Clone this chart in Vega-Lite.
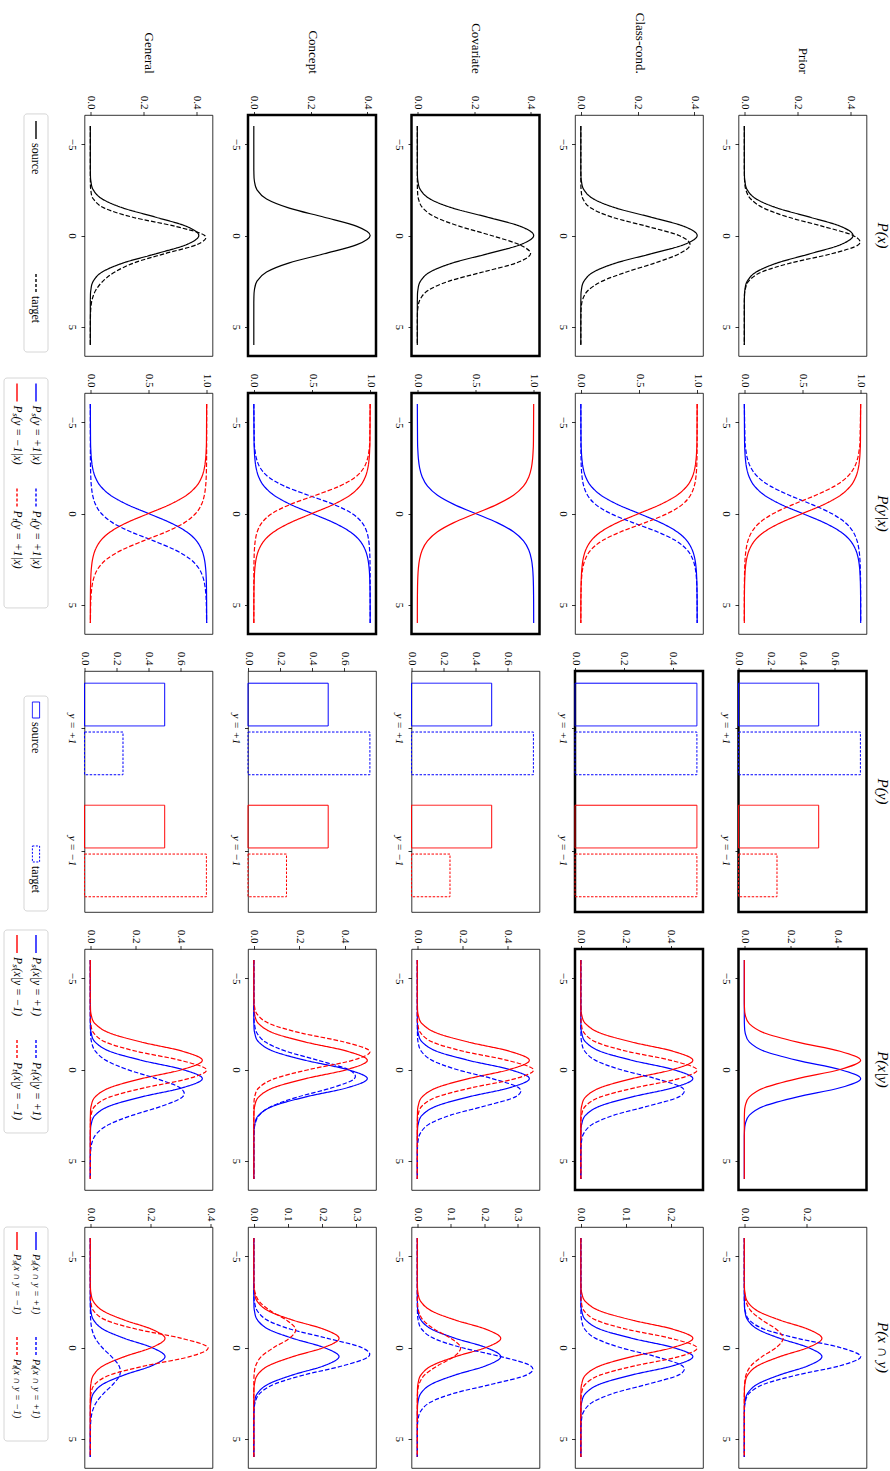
{
"$schema":"https://vega.github.io/schema/vega-lite/v6.json",
"background":"white",
"padding":{"left":3,"top":11,"right":2,"bottom":2},
"bounds":"flush",
"columns":6,
"spacing":{"row":37,"column":35.5},
"concat":[
 {"width":44.5,"height":241,"view":{"stroke":null},"layer":[
  {"data":{"values":[{"a":1}]},"mark":{"type":"rect","fillOpacity":0,"stroke":"#cccccc","strokeWidth":0.8,"cornerRadius":3},"encoding":{"x":{"datum":1.368,"type":"quantitative","scale":{"domain":[0.3158,2.658],"nice":false,"zero":false},"axis":null},"x2":{"datum":2.632},"y":{"datum":0.895,"type":"quantitative","scale":{"domain":[0.902,2.477],"nice":false,"zero":false,"reverse":true},"axis":null},"y2":{"datum":2.451}}},
  {"data":{"name":"leg"},"transform":[{"filter":"datum.g=='L1'"}],"mark":{"type":"point","shape":"M0,-1L0,1","size":324,"filled":false,"strokeWidth":1.4,"color":"black","opacity":1},"encoding":{"x":{"field":"lane","type":"quantitative"},"y":{"field":"slot","type":"quantitative"},"strokeDash":{"condition":{"test":"datum.s=='t'","value":[3,2]},"value":[1,0]}}},
  {"data":{"name":"leg"},"transform":[{"filter":"datum.g=='L1'"}],"mark":{"type":"text","angle":90,"align":"left","baseline":"middle","yOffset":13,"font":"Liberation Serif","fontSize":12,"color":"black"},"encoding":{"x":{"field":"lane","type":"quantitative"},"y":{"field":"slot","type":"quantitative"},"text":{"field":"t"}}}
 ]},
 {"width":128,"height":241,"view":{"stroke":"black","strokeWidth":0.8},"data":{"name":"px"},"transform":[{"filter":"datum.r=='S'||datum.r=='G'"}],"mark":{"type":"line","interpolate":"cardinal","strokeWidth":1.2,"color":"black"},"encoding":{"x":{"field":"v","type":"quantitative","scale":{"domain":[-0.022,0.462],"nice":false,"zero":false},"axis":{"orient":"top","values":[0,0.2,0.4],"format":".1f","title":"General"}},"y":{"field":"x","type":"quantitative","scale":{"domain":[-6.6,6.6],"nice":false,"zero":false,"reverse":true},"axis":{"values":[-5,0,5],"title":null}},"detail":{"field":"r"},"order":{"field":"x","type":"quantitative"},"strokeDash":{"condition":{"test":"datum.r!='S'","value":[4.5,2]},"value":[1,0]}}},
 {"width":128,"height":241,"view":{"stroke":"black","strokeWidth":2.5},"data":{"name":"px"},"transform":[{"filter":"datum.r=='S'"}],"mark":{"type":"line","interpolate":"cardinal","strokeWidth":1.2,"color":"black"},"encoding":{"x":{"field":"v","type":"quantitative","scale":{"domain":[-0.0205,0.4307],"nice":false,"zero":false},"axis":{"orient":"top","values":[0,0.2,0.4],"format":".1f","title":"Concept"}},"y":{"field":"x","type":"quantitative","scale":{"domain":[-6.6,6.6],"nice":false,"zero":false,"reverse":true},"axis":{"values":[-5,0,5],"title":null}},"detail":{"field":"r"},"order":{"field":"x","type":"quantitative"}}},
 {"width":128,"height":241,"view":{"stroke":"black","strokeWidth":2.5},"data":{"name":"px"},"transform":[{"filter":"datum.r=='S'||datum.r=='V'"}],"mark":{"type":"line","interpolate":"cardinal","strokeWidth":1.2,"color":"black"},"encoding":{"x":{"field":"v","type":"quantitative","scale":{"domain":[-0.0205,0.4307],"nice":false,"zero":false},"axis":{"orient":"top","values":[0,0.2,0.4],"format":".1f","title":"Covariate"}},"y":{"field":"x","type":"quantitative","scale":{"domain":[-6.6,6.6],"nice":false,"zero":false,"reverse":true},"axis":{"values":[-5,0,5],"title":null}},"detail":{"field":"r"},"order":{"field":"x","type":"quantitative"},"strokeDash":{"condition":{"test":"datum.r!='S'","value":[4.5,2]},"value":[1,0]}}},
 {"width":128,"height":241,"view":{"stroke":"black","strokeWidth":0.8},"data":{"name":"px"},"transform":[{"filter":"datum.r=='S'||datum.r=='C'"}],"mark":{"type":"line","interpolate":"cardinal","strokeWidth":1.2,"color":"black"},"encoding":{"x":{"field":"v","type":"quantitative","scale":{"domain":[-0.0205,0.4307],"nice":false,"zero":false},"axis":{"orient":"top","values":[0,0.2,0.4],"format":".1f","title":"Class-cond."}},"y":{"field":"x","type":"quantitative","scale":{"domain":[-6.6,6.6],"nice":false,"zero":false,"reverse":true},"axis":{"values":[-5,0,5],"title":null}},"detail":{"field":"r"},"order":{"field":"x","type":"quantitative"},"strokeDash":{"condition":{"test":"datum.r!='S'","value":[4.5,2]},"value":[1,0]}}},
 {"width":128,"height":241,"view":{"stroke":"black","strokeWidth":0.8},"title":{"text":"P(x)","orient":"right","anchor":"middle"},"data":{"name":"px"},"transform":[{"filter":"datum.r=='S'||datum.r=='P'"}],"mark":{"type":"line","interpolate":"cardinal","strokeWidth":1.2,"color":"black"},"encoding":{"x":{"field":"v","type":"quantitative","scale":{"domain":[-0.022,0.461],"nice":false,"zero":false},"axis":{"orient":"top","values":[0,0.2,0.4],"format":".1f","title":"Prior"}},"y":{"field":"x","type":"quantitative","scale":{"domain":[-6.6,6.6],"nice":false,"zero":false,"reverse":true},"axis":{"values":[-5,0,5],"title":null}},"detail":{"field":"r"},"order":{"field":"x","type":"quantitative"},"strokeDash":{"condition":{"test":"datum.r!='S'","value":[4.5,2]},"value":[1,0]}}},

 {"width":44.5,"height":241,"view":{"stroke":null},"layer":[
  {"data":{"values":[{"a":1}]},"mark":{"type":"rect","fillOpacity":0,"stroke":"#cccccc","strokeWidth":0.8,"cornerRadius":3},"encoding":{"x":{"datum":0.3158,"type":"quantitative","scale":{"domain":[0.3158,2.658],"nice":false,"zero":false},"axis":null},"x2":{"datum":2.632},"y":{"datum":0.862,"type":"quantitative","scale":{"domain":[1.0048,3.3],"nice":false,"zero":false,"reverse":true},"axis":null},"y2":{"datum":3.052}}},
  {"data":{"name":"leg"},"transform":[{"filter":"datum.g=='L2'"}],"mark":{"type":"point","shape":"M0,-1L0,1","size":324,"filled":false,"strokeWidth":1.4,"opacity":1},"encoding":{"x":{"field":"lane","type":"quantitative"},"y":{"field":"slot","type":"quantitative"},"color":{"condition":{"test":"datum.c=='p'","value":"#0000ff"},"value":"#ff0000"},"strokeDash":{"condition":{"test":"datum.s=='t'","value":[3,2]},"value":[1,0]}}},
  {"data":{"name":"leg"},"transform":[{"filter":"datum.g=='L2'"}],"mark":{"type":"text","angle":90,"align":"left","baseline":"middle","yOffset":13,"font":"Liberation Serif","fontStyle":"italic","fontSize":11.5,"color":"black"},"encoding":{"x":{"field":"lane","type":"quantitative"},"y":{"field":"slot","type":"quantitative"},"text":{"field":"t"}}}
 ]},
 {"width":128,"height":241,"view":{"stroke":"black","strokeWidth":0.8},"data":{"name":"pyx"},"transform":[{"filter":"datum.r=='S'||datum.r=='G'"}],"mark":{"type":"line","interpolate":"cardinal","strokeWidth":1.2},"encoding":{"x":{"field":"v","type":"quantitative","scale":{"domain":[-0.05,1.05],"nice":false,"zero":false},"axis":{"orient":"top","values":[0,0.5,1],"format":".1f","title":null}},"y":{"field":"x","type":"quantitative","scale":{"domain":[-6.6,6.6],"nice":false,"zero":false,"reverse":true},"axis":{"values":[-5,0,5],"title":null}},"detail":[{"field":"r"},{"field":"c"}],"order":{"field":"x","type":"quantitative"},"color":{"condition":{"test":"datum.c=='p'","value":"#0000ff"},"value":"#ff0000"},"strokeDash":{"condition":{"test":"datum.r!='S'","value":[4.5,2]},"value":[1,0]}}},
 {"width":128,"height":241,"view":{"stroke":"black","strokeWidth":2.5},"data":{"name":"pyx"},"transform":[{"filter":"datum.r=='S'||datum.r=='K'"}],"mark":{"type":"line","interpolate":"cardinal","strokeWidth":1.2},"encoding":{"x":{"field":"v","type":"quantitative","scale":{"domain":[-0.05,1.05],"nice":false,"zero":false},"axis":{"orient":"top","values":[0,0.5,1],"format":".1f","title":null}},"y":{"field":"x","type":"quantitative","scale":{"domain":[-6.6,6.6],"nice":false,"zero":false,"reverse":true},"axis":{"values":[-5,0,5],"title":null}},"detail":[{"field":"r"},{"field":"c"}],"order":{"field":"x","type":"quantitative"},"color":{"condition":{"test":"datum.c=='p'","value":"#0000ff"},"value":"#ff0000"},"strokeDash":{"condition":{"test":"datum.r!='S'","value":[4.5,2]},"value":[1,0]}}},
 {"width":128,"height":241,"view":{"stroke":"black","strokeWidth":2.5},"data":{"name":"pyx"},"transform":[{"filter":"datum.r=='S'"}],"mark":{"type":"line","interpolate":"cardinal","strokeWidth":1.2},"encoding":{"x":{"field":"v","type":"quantitative","scale":{"domain":[-0.05,1.05],"nice":false,"zero":false},"axis":{"orient":"top","values":[0,0.5,1],"format":".1f","title":null}},"y":{"field":"x","type":"quantitative","scale":{"domain":[-6.6,6.6],"nice":false,"zero":false,"reverse":true},"axis":{"values":[-5,0,5],"title":null}},"detail":[{"field":"r"},{"field":"c"}],"order":{"field":"x","type":"quantitative"},"color":{"condition":{"test":"datum.c=='p'","value":"#0000ff"},"value":"#ff0000"}}},
 {"width":128,"height":241,"view":{"stroke":"black","strokeWidth":0.8},"data":{"name":"pyx"},"transform":[{"filter":"datum.r=='S'||datum.r=='C'"}],"mark":{"type":"line","interpolate":"cardinal","strokeWidth":1.2},"encoding":{"x":{"field":"v","type":"quantitative","scale":{"domain":[-0.05,1.05],"nice":false,"zero":false},"axis":{"orient":"top","values":[0,0.5,1],"format":".1f","title":null}},"y":{"field":"x","type":"quantitative","scale":{"domain":[-6.6,6.6],"nice":false,"zero":false,"reverse":true},"axis":{"values":[-5,0,5],"title":null}},"detail":[{"field":"r"},{"field":"c"}],"order":{"field":"x","type":"quantitative"},"color":{"condition":{"test":"datum.c=='p'","value":"#0000ff"},"value":"#ff0000"},"strokeDash":{"condition":{"test":"datum.r!='S'","value":[4.5,2]},"value":[1,0]}}},
 {"width":128,"height":241,"view":{"stroke":"black","strokeWidth":0.8},"title":{"text":"P(y|x)","orient":"right","anchor":"middle"},"data":{"name":"pyx"},"transform":[{"filter":"datum.r=='S'||datum.r=='P'"}],"mark":{"type":"line","interpolate":"cardinal","strokeWidth":1.2},"encoding":{"x":{"field":"v","type":"quantitative","scale":{"domain":[-0.05,1.05],"nice":false,"zero":false},"axis":{"orient":"top","values":[0,0.5,1],"format":".1f","title":null}},"y":{"field":"x","type":"quantitative","scale":{"domain":[-6.6,6.6],"nice":false,"zero":false,"reverse":true},"axis":{"values":[-5,0,5],"title":null}},"detail":[{"field":"r"},{"field":"c"}],"order":{"field":"x","type":"quantitative"},"color":{"condition":{"test":"datum.c=='p'","value":"#0000ff"},"value":"#ff0000"},"strokeDash":{"condition":{"test":"datum.r!='S'","value":[4.5,2]},"value":[1,0]}}},

 {"width":44.5,"height":241,"view":{"stroke":null},"layer":[
  {"data":{"values":[{"a":1}]},"mark":{"type":"rect","fillOpacity":0,"stroke":"#cccccc","strokeWidth":0.8,"cornerRadius":3},"encoding":{"x":{"datum":1.368,"type":"quantitative","scale":{"domain":[0.3158,2.658],"nice":false,"zero":false},"axis":null},"x2":{"datum":2.632},"y":{"datum":0.903,"type":"quantitative","scale":{"domain":[0.729,2.403],"nice":false,"zero":false,"reverse":true},"axis":null},"y2":{"datum":2.396}}},
  {"data":{"name":"leg"},"transform":[{"filter":"datum.g=='L3'"}],"mark":{"type":"point","shape":"M-0.45,-1H0.45V1H-0.45Z","size":256,"filled":false,"strokeWidth":1,"color":"#0000ff","opacity":1},"encoding":{"x":{"field":"lane","type":"quantitative"},"y":{"field":"slot","type":"quantitative"},"strokeDash":{"condition":{"test":"datum.s=='t'","value":[2,1.5]},"value":[1,0]}}},
  {"data":{"name":"leg"},"transform":[{"filter":"datum.g=='L3'"}],"mark":{"type":"text","angle":90,"align":"left","baseline":"middle","yOffset":12,"font":"Liberation Serif","fontSize":12,"color":"black"},"encoding":{"x":{"field":"lane","type":"quantitative"},"y":{"field":"slot","type":"quantitative"},"text":{"field":"t"}}}
 ]},
 {"width":128,"height":241,"view":{"stroke":"black","strokeWidth":0.8},"data":{"name":"bars"},"transform":[{"filter":"datum.r=='G'"}],"mark":{"type":"bar","fillOpacity":0,"strokeWidth":1},"encoding":{"y":{"field":"k","type":"nominal","sort":["y = +1","y = −1"],"scale":{"paddingInner":0.25,"paddingOuter":0.1125,"align":0.445},"axis":{"title":null,"labelFontStyle":"italic"}},"yOffset":{"field":"s","type":"nominal","sort":["s","t"],"scale":{"paddingInner":0.125,"paddingOuter":0}},"x":{"field":"p","type":"quantitative","scale":{"domain":[0,0.798],"nice":false,"zero":false},"axis":{"orient":"top","values":[0,0.2,0.4,0.6],"format":".1f","title":null}},"stroke":{"condition":{"test":"datum.k=='y = +1'","value":"#0000ff"},"value":"#ff0000"},"strokeDash":{"condition":{"test":"datum.s=='t'","value":[2.5,1.5]},"value":[1,0]}}},
 {"width":128,"height":241,"view":{"stroke":"black","strokeWidth":0.8},"data":{"name":"bars"},"transform":[{"filter":"datum.r=='K'"}],"mark":{"type":"bar","fillOpacity":0,"strokeWidth":1},"encoding":{"y":{"field":"k","type":"nominal","sort":["y = +1","y = −1"],"scale":{"paddingInner":0.25,"paddingOuter":0.1125,"align":0.445},"axis":{"title":null,"labelFontStyle":"italic"}},"yOffset":{"field":"s","type":"nominal","sort":["s","t"],"scale":{"paddingInner":0.125,"paddingOuter":0}},"x":{"field":"p","type":"quantitative","scale":{"domain":[0,0.798],"nice":false,"zero":false},"axis":{"orient":"top","values":[0,0.2,0.4,0.6],"format":".1f","title":null}},"stroke":{"condition":{"test":"datum.k=='y = +1'","value":"#0000ff"},"value":"#ff0000"},"strokeDash":{"condition":{"test":"datum.s=='t'","value":[2.5,1.5]},"value":[1,0]}}},
 {"width":128,"height":241,"view":{"stroke":"black","strokeWidth":0.8},"data":{"name":"bars"},"transform":[{"filter":"datum.r=='V'"}],"mark":{"type":"bar","fillOpacity":0,"strokeWidth":1},"encoding":{"y":{"field":"k","type":"nominal","sort":["y = +1","y = −1"],"scale":{"paddingInner":0.25,"paddingOuter":0.1125,"align":0.445},"axis":{"title":null,"labelFontStyle":"italic"}},"yOffset":{"field":"s","type":"nominal","sort":["s","t"],"scale":{"paddingInner":0.125,"paddingOuter":0}},"x":{"field":"p","type":"quantitative","scale":{"domain":[0,0.798],"nice":false,"zero":false},"axis":{"orient":"top","values":[0,0.2,0.4,0.6],"format":".1f","title":null}},"stroke":{"condition":{"test":"datum.k=='y = +1'","value":"#0000ff"},"value":"#ff0000"},"strokeDash":{"condition":{"test":"datum.s=='t'","value":[2.5,1.5]},"value":[1,0]}}},
 {"width":128,"height":241,"view":{"stroke":"black","strokeWidth":2.5},"data":{"name":"bars"},"transform":[{"filter":"datum.r=='C'"}],"mark":{"type":"bar","fillOpacity":0,"strokeWidth":1},"encoding":{"y":{"field":"k","type":"nominal","sort":["y = +1","y = −1"],"scale":{"paddingInner":0.25,"paddingOuter":0.1125,"align":0.445},"axis":{"title":null,"labelFontStyle":"italic"}},"yOffset":{"field":"s","type":"nominal","sort":["s","t"],"scale":{"paddingInner":0.125,"paddingOuter":0}},"x":{"field":"p","type":"quantitative","scale":{"domain":[0,0.525],"nice":false,"zero":false},"axis":{"orient":"top","values":[0,0.2,0.4],"format":".1f","title":null}},"stroke":{"condition":{"test":"datum.k=='y = +1'","value":"#0000ff"},"value":"#ff0000"},"strokeDash":{"condition":{"test":"datum.s=='t'","value":[2.5,1.5]},"value":[1,0]}}},
 {"width":128,"height":241,"view":{"stroke":"black","strokeWidth":2.5},"title":{"text":"P(y)","orient":"right","anchor":"middle"},"data":{"name":"bars"},"transform":[{"filter":"datum.r=='P'"}],"mark":{"type":"bar","fillOpacity":0,"strokeWidth":1},"encoding":{"y":{"field":"k","type":"nominal","sort":["y = +1","y = −1"],"scale":{"paddingInner":0.25,"paddingOuter":0.1125,"align":0.445},"axis":{"title":null,"labelFontStyle":"italic"}},"yOffset":{"field":"s","type":"nominal","sort":["s","t"],"scale":{"paddingInner":0.125,"paddingOuter":0}},"x":{"field":"p","type":"quantitative","scale":{"domain":[0,0.798],"nice":false,"zero":false},"axis":{"orient":"top","values":[0,0.2,0.4,0.6],"format":".1f","title":null}},"stroke":{"condition":{"test":"datum.k=='y = +1'","value":"#0000ff"},"value":"#ff0000"},"strokeDash":{"condition":{"test":"datum.s=='t'","value":[2.5,1.5]},"value":[1,0]}}},

 {"width":44.5,"height":241,"view":{"stroke":null},"layer":[
  {"data":{"values":[{"a":1}]},"mark":{"type":"rect","fillOpacity":0,"stroke":"#cccccc","strokeWidth":0.8,"cornerRadius":3},"encoding":{"x":{"datum":0.3158,"type":"quantitative","scale":{"domain":[0.3158,2.658],"nice":false,"zero":false},"axis":null},"x2":{"datum":2.632},"y":{"datum":0.867,"type":"quantitative","scale":{"domain":[1.048,3.343],"nice":false,"zero":false,"reverse":true},"axis":null},"y2":{"datum":2.8}}},
  {"data":{"name":"leg"},"transform":[{"filter":"datum.g=='L4'"}],"mark":{"type":"point","shape":"M0,-1L0,1","size":324,"filled":false,"strokeWidth":1.4,"opacity":1},"encoding":{"x":{"field":"lane","type":"quantitative"},"y":{"field":"slot","type":"quantitative"},"color":{"condition":{"test":"datum.c=='p'","value":"#0000ff"},"value":"#ff0000"},"strokeDash":{"condition":{"test":"datum.s=='t'","value":[3,2]},"value":[1,0]}}},
  {"data":{"name":"leg"},"transform":[{"filter":"datum.g=='L4'"}],"mark":{"type":"text","angle":90,"align":"left","baseline":"middle","yOffset":13,"font":"Liberation Serif","fontStyle":"italic","fontSize":11.5,"color":"black"},"encoding":{"x":{"field":"lane","type":"quantitative"},"y":{"field":"slot","type":"quantitative"},"text":{"field":"t"}}}
 ]},
 {"width":128,"height":241,"view":{"stroke":"black","strokeWidth":0.8},"data":{"name":"pxy"},"transform":[{"filter":"datum.r=='S'||datum.r=='G'"}],"mark":{"type":"line","interpolate":"cardinal","strokeWidth":1.2},"encoding":{"x":{"field":"v","type":"quantitative","scale":{"domain":[-0.0259,0.544],"nice":false,"zero":false},"axis":{"orient":"top","values":[0,0.2,0.4],"format":".1f","title":null}},"y":{"field":"x","type":"quantitative","scale":{"domain":[-6.6,6.6],"nice":false,"zero":false,"reverse":true},"axis":{"values":[-5,0,5],"title":null}},"detail":[{"field":"r"},{"field":"c"}],"order":{"field":"x","type":"quantitative"},"color":{"condition":{"test":"datum.c=='p'","value":"#0000ff"},"value":"#ff0000"},"strokeDash":{"condition":{"test":"datum.r!='S'","value":[4.5,2]},"value":[1,0]}}},
 {"width":128,"height":241,"view":{"stroke":"black","strokeWidth":0.8},"data":{"name":"pxy"},"transform":[{"filter":"datum.r=='S'||datum.r=='K'"}],"mark":{"type":"line","interpolate":"cardinal","strokeWidth":1.2},"encoding":{"x":{"field":"v","type":"quantitative","scale":{"domain":[-0.0256,0.537],"nice":false,"zero":false},"axis":{"orient":"top","values":[0,0.2,0.4],"format":".1f","title":null}},"y":{"field":"x","type":"quantitative","scale":{"domain":[-6.6,6.6],"nice":false,"zero":false,"reverse":true},"axis":{"values":[-5,0,5],"title":null}},"detail":[{"field":"r"},{"field":"c"}],"order":{"field":"x","type":"quantitative"},"color":{"condition":{"test":"datum.c=='p'","value":"#0000ff"},"value":"#ff0000"},"strokeDash":{"condition":{"test":"datum.r!='S'","value":[4.5,2]},"value":[1,0]}}},
 {"width":128,"height":241,"view":{"stroke":"black","strokeWidth":0.8},"data":{"name":"pxy"},"transform":[{"filter":"datum.r=='S'||datum.r=='C'"}],"mark":{"type":"line","interpolate":"cardinal","strokeWidth":1.2},"encoding":{"x":{"field":"v","type":"quantitative","scale":{"domain":[-0.0259,0.544],"nice":false,"zero":false},"axis":{"orient":"top","values":[0,0.2,0.4],"format":".1f","title":null}},"y":{"field":"x","type":"quantitative","scale":{"domain":[-6.6,6.6],"nice":false,"zero":false,"reverse":true},"axis":{"values":[-5,0,5],"title":null}},"detail":[{"field":"r"},{"field":"c"}],"order":{"field":"x","type":"quantitative"},"color":{"condition":{"test":"datum.c=='p'","value":"#0000ff"},"value":"#ff0000"},"strokeDash":{"condition":{"test":"datum.r!='S'","value":[4.5,2]},"value":[1,0]}}},
 {"width":128,"height":241,"view":{"stroke":"black","strokeWidth":2.5},"data":{"name":"pxy"},"transform":[{"filter":"datum.r=='S'||datum.r=='C'"}],"mark":{"type":"line","interpolate":"cardinal","strokeWidth":1.2},"encoding":{"x":{"field":"v","type":"quantitative","scale":{"domain":[-0.0259,0.544],"nice":false,"zero":false},"axis":{"orient":"top","values":[0,0.2,0.4],"format":".1f","title":null}},"y":{"field":"x","type":"quantitative","scale":{"domain":[-6.6,6.6],"nice":false,"zero":false,"reverse":true},"axis":{"values":[-5,0,5],"title":null}},"detail":[{"field":"r"},{"field":"c"}],"order":{"field":"x","type":"quantitative"},"color":{"condition":{"test":"datum.c=='p'","value":"#0000ff"},"value":"#ff0000"},"strokeDash":{"condition":{"test":"datum.r!='S'","value":[4.5,2]},"value":[1,0]}}},
 {"width":128,"height":241,"view":{"stroke":"black","strokeWidth":2.5},"title":{"text":"P(x|y)","orient":"right","anchor":"middle"},"data":{"name":"pxy"},"transform":[{"filter":"datum.r=='S'"}],"mark":{"type":"line","interpolate":"cardinal","strokeWidth":1.2},"encoding":{"x":{"field":"v","type":"quantitative","scale":{"domain":[-0.0249,0.5236],"nice":false,"zero":false},"axis":{"orient":"top","values":[0,0.2,0.4],"format":".1f","title":null}},"y":{"field":"x","type":"quantitative","scale":{"domain":[-6.6,6.6],"nice":false,"zero":false,"reverse":true},"axis":{"values":[-5,0,5],"title":null}},"detail":[{"field":"r"},{"field":"c"}],"order":{"field":"x","type":"quantitative"},"color":{"condition":{"test":"datum.c=='p'","value":"#0000ff"},"value":"#ff0000"}}},

 {"width":44.5,"height":241,"view":{"stroke":null},"layer":[
  {"data":{"values":[{"a":1}]},"mark":{"type":"rect","fillOpacity":0,"stroke":"#cccccc","strokeWidth":0.8,"cornerRadius":3},"encoding":{"x":{"datum":0.3158,"type":"quantitative","scale":{"domain":[0.3158,2.658],"nice":false,"zero":false},"axis":null},"x2":{"datum":2.632},"y":{"datum":0.867,"type":"quantitative","scale":{"domain":[0.867,3.162],"nice":false,"zero":false,"reverse":true},"axis":null},"y2":{"datum":2.905}}},
  {"data":{"name":"leg"},"transform":[{"filter":"datum.g=='L5'"}],"mark":{"type":"point","shape":"M0,-1L0,1","size":324,"filled":false,"strokeWidth":1.4,"opacity":1},"encoding":{"x":{"field":"lane","type":"quantitative"},"y":{"field":"slot","type":"quantitative"},"color":{"condition":{"test":"datum.c=='p'","value":"#0000ff"},"value":"#ff0000"},"strokeDash":{"condition":{"test":"datum.s=='t'","value":[3,2]},"value":[1,0]}}},
  {"data":{"name":"leg"},"transform":[{"filter":"datum.g=='L5'"}],"mark":{"type":"text","angle":90,"align":"left","baseline":"middle","yOffset":13,"font":"Liberation Serif","fontStyle":"italic","fontSize":10,"color":"black"},"encoding":{"x":{"field":"lane","type":"quantitative"},"y":{"field":"slot","type":"quantitative"},"text":{"field":"t"}}}
 ]},
 {"width":128,"height":241,"view":{"stroke":"black","strokeWidth":0.8},"data":{"name":"pj"},"transform":[{"filter":"datum.r=='S'||datum.r=='G'"}],"mark":{"type":"line","interpolate":"cardinal","strokeWidth":1.2},"encoding":{"x":{"field":"v","type":"quantitative","scale":{"domain":[-0.0194,0.408],"nice":false,"zero":false},"axis":{"orient":"top","values":[0,0.2,0.4],"format":".1f","title":null}},"y":{"field":"x","type":"quantitative","scale":{"domain":[-6.6,6.6],"nice":false,"zero":false,"reverse":true},"axis":{"values":[-5,0,5],"title":null}},"detail":[{"field":"r"},{"field":"c"}],"order":{"field":"x","type":"quantitative"},"color":{"condition":{"test":"datum.c=='p'","value":"#0000ff"},"value":"#ff0000"},"strokeDash":{"condition":{"test":"datum.r!='S'","value":[4.5,2]},"value":[1,0]}}},
 {"width":128,"height":241,"view":{"stroke":"black","strokeWidth":0.8},"data":{"name":"pj"},"transform":[{"filter":"datum.r=='S'||datum.r=='K'"}],"mark":{"type":"line","interpolate":"cardinal","strokeWidth":1.2},"encoding":{"x":{"field":"v","type":"quantitative","scale":{"domain":[-0.017,0.3576],"nice":false,"zero":false},"axis":{"orient":"top","values":[0,0.1,0.2,0.3],"format":".1f","title":null}},"y":{"field":"x","type":"quantitative","scale":{"domain":[-6.6,6.6],"nice":false,"zero":false,"reverse":true},"axis":{"values":[-5,0,5],"title":null}},"detail":[{"field":"r"},{"field":"c"}],"order":{"field":"x","type":"quantitative"},"color":{"condition":{"test":"datum.c=='p'","value":"#0000ff"},"value":"#ff0000"},"strokeDash":{"condition":{"test":"datum.r!='S'","value":[4.5,2]},"value":[1,0]}}},
 {"width":128,"height":241,"view":{"stroke":"black","strokeWidth":0.8},"data":{"name":"pj"},"transform":[{"filter":"datum.r=='S'||datum.r=='V'"}],"mark":{"type":"line","interpolate":"cardinal","strokeWidth":1.2},"encoding":{"x":{"field":"v","type":"quantitative","scale":{"domain":[-0.0174,0.3653],"nice":false,"zero":false},"axis":{"orient":"top","values":[0,0.1,0.2,0.3],"format":".1f","title":null}},"y":{"field":"x","type":"quantitative","scale":{"domain":[-6.6,6.6],"nice":false,"zero":false,"reverse":true},"axis":{"values":[-5,0,5],"title":null}},"detail":[{"field":"r"},{"field":"c"}],"order":{"field":"x","type":"quantitative"},"color":{"condition":{"test":"datum.c=='p'","value":"#0000ff"},"value":"#ff0000"},"strokeDash":{"condition":{"test":"datum.r!='S'","value":[4.5,2]},"value":[1,0]}}},
 {"width":128,"height":241,"view":{"stroke":"black","strokeWidth":0.8},"data":{"name":"pj"},"transform":[{"filter":"datum.r=='S'||datum.r=='C'"}],"mark":{"type":"line","interpolate":"cardinal","strokeWidth":1.2},"encoding":{"x":{"field":"v","type":"quantitative","scale":{"domain":[-0.013,0.272],"nice":false,"zero":false},"axis":{"orient":"top","values":[0,0.1,0.2],"format":".1f","title":null}},"y":{"field":"x","type":"quantitative","scale":{"domain":[-6.6,6.6],"nice":false,"zero":false,"reverse":true},"axis":{"values":[-5,0,5],"title":null}},"detail":[{"field":"r"},{"field":"c"}],"order":{"field":"x","type":"quantitative"},"color":{"condition":{"test":"datum.c=='p'","value":"#0000ff"},"value":"#ff0000"},"strokeDash":{"condition":{"test":"datum.r!='S'","value":[4.5,2]},"value":[1,0]}}},
 {"width":128,"height":241,"view":{"stroke":"black","strokeWidth":0.8},"title":{"text":"P(x ∩ y)","orient":"right","anchor":"middle"},"data":{"name":"pj"},"transform":[{"filter":"datum.r=='S'||datum.r=='P'"}],"mark":{"type":"line","interpolate":"cardinal","strokeWidth":1.2},"encoding":{"x":{"field":"v","type":"quantitative","scale":{"domain":[-0.0187,0.3927],"nice":false,"zero":false},"axis":{"orient":"top","values":[0,0.2],"format":".1f","title":null}},"y":{"field":"x","type":"quantitative","scale":{"domain":[-6.6,6.6],"nice":false,"zero":false,"reverse":true},"axis":{"values":[-5,0,5],"title":null}},"detail":[{"field":"r"},{"field":"c"}],"order":{"field":"x","type":"quantitative"},"color":{"condition":{"test":"datum.c=='p'","value":"#0000ff"},"value":"#ff0000"},"strokeDash":{"condition":{"test":"datum.r!='S'","value":[4.5,2]},"value":[1,0]}}}
],
"datasets":{
"leg":[
{"g":"L1","lane":2,"slot":1,"c":"k","s":"s","t":"source"},
{"g":"L1","lane":2,"slot":2,"c":"k","s":"t","t":"target"},
{"g":"L2","lane":2,"slot":1,"c":"p","s":"s","t":"Pₛ(y = +1|x)"},
{"g":"L2","lane":2,"slot":2,"c":"p","s":"t","t":"Pₜ(y = +1|x)"},
{"g":"L2","lane":1,"slot":1,"c":"n","s":"s","t":"Pₛ(y = −1|x)"},
{"g":"L2","lane":1,"slot":2,"c":"n","s":"t","t":"Pₜ(y = +1|x)"},
{"g":"L3","lane":2,"slot":1,"c":"p","s":"s","t":"source"},
{"g":"L3","lane":2,"slot":2,"c":"p","s":"t","t":"target"},
{"g":"L4","lane":2,"slot":1,"c":"p","s":"s","t":"Pₛ(x|y = +1)"},
{"g":"L4","lane":2,"slot":2,"c":"p","s":"t","t":"Pₜ(x|y = +1)"},
{"g":"L4","lane":1,"slot":1,"c":"n","s":"s","t":"Pₛ(x|y = −1)"},
{"g":"L4","lane":1,"slot":2,"c":"n","s":"t","t":"Pₜ(x|y = −1)"},
{"g":"L5","lane":2,"slot":1,"c":"p","s":"s","t":"Pₛ(x ∩ y = +1)"},
{"g":"L5","lane":2,"slot":2,"c":"p","s":"t","t":"Pₜ(x ∩ y = +1)"},
{"g":"L5","lane":1,"slot":1,"c":"n","s":"s","t":"Pₛ(x ∩ y = −1)"},
{"g":"L5","lane":1,"slot":2,"c":"n","s":"t","t":"Pₜ(x ∩ y = −1)"}
],
"bars":[
{"r":"G","k":"y = +1","s":"s","p":0.5},{"r":"G","k":"y = +1","s":"t","p":0.24},{"r":"G","k":"y = −1","s":"s","p":0.5},{"r":"G","k":"y = −1","s":"t","p":0.76},
{"r":"K","k":"y = +1","s":"s","p":0.5},{"r":"K","k":"y = +1","s":"t","p":0.76},{"r":"K","k":"y = −1","s":"s","p":0.5},{"r":"K","k":"y = −1","s":"t","p":0.24},
{"r":"V","k":"y = +1","s":"s","p":0.5},{"r":"V","k":"y = +1","s":"t","p":0.76},{"r":"V","k":"y = −1","s":"s","p":0.5},{"r":"V","k":"y = −1","s":"t","p":0.24},
{"r":"C","k":"y = +1","s":"s","p":0.5},{"r":"C","k":"y = +1","s":"t","p":0.5},{"r":"C","k":"y = −1","s":"s","p":0.5},{"r":"C","k":"y = −1","s":"t","p":0.5},
{"r":"P","k":"y = +1","s":"s","p":0.5},{"r":"P","k":"y = +1","s":"t","p":0.76},{"r":"P","k":"y = −1","s":"s","p":0.5},{"r":"P","k":"y = −1","s":"t","p":0.24}
],
"px":[
{"r":"S","x":-6,"v":0},{"r":"S","x":-4,"v":0},{"r":"S","x":-3.5,"v":0.0002},{"r":"S","x":-3,"v":0.0019},{"r":"S","x":-2.5,"v":0.0112},{"r":"S","x":-2,"v":0.0449},{"r":"S","x":-1.5,"v":0.1251},{"r":"S","x":-1,"v":0.2481},{"r":"S","x":-0.5,"v":0.3635},{"r":"S","x":0,"v":0.4102},{"r":"S","x":0.5,"v":0.3635},{"r":"S","x":1,"v":0.2481},{"r":"S","x":1.5,"v":0.1251},{"r":"S","x":2,"v":0.0449},{"r":"S","x":2.5,"v":0.0112},{"r":"S","x":3,"v":0.0019},{"r":"S","x":3.5,"v":0.0002},{"r":"S","x":4,"v":0},{"r":"S","x":6,"v":0},
{"r":"P","x":-6,"v":0},{"r":"P","x":-4,"v":0},{"r":"P","x":-3.5,"v":0.0001},{"r":"P","x":-3,"v":0.001},{"r":"P","x":-2.5,"v":0.0058},{"r":"P","x":-2,"v":0.0243},{"r":"P","x":-1.5,"v":0.0735},{"r":"P","x":-1,"v":0.1671},{"r":"P","x":-0.5,"v":0.2959},{"r":"P","x":0,"v":0.4102},{"r":"P","x":0.5,"v":0.4311},{"r":"P","x":1,"v":0.3292},{"r":"P","x":1.5,"v":0.1767},{"r":"P","x":2,"v":0.0655},{"r":"P","x":2.5,"v":0.0165},{"r":"P","x":3,"v":0.0028},{"r":"P","x":3.5,"v":0.0003},{"r":"P","x":4,"v":0},{"r":"P","x":6,"v":0},
{"r":"C","x":-6,"v":0},{"r":"C","x":-4,"v":0},{"r":"C","x":-3.5,"v":0},{"r":"C","x":-3,"v":0.0001},{"r":"C","x":-2.5,"v":0.0011},{"r":"C","x":-2,"v":0.0077},{"r":"C","x":-1.5,"v":0.0358},{"r":"C","x":-1,"v":0.111},{"r":"C","x":-0.5,"v":0.2336},{"r":"C","x":0,"v":0.3462},{"r":"C","x":0.5,"v":0.385},{"r":"C","x":1,"v":0.3468},{"r":"C","x":1.5,"v":0.2623},{"r":"C","x":2,"v":0.161},{"r":"C","x":2.5,"v":0.0756},{"r":"C","x":3,"v":0.0261},{"r":"C","x":3.5,"v":0.0065},{"r":"C","x":4,"v":0.0012},{"r":"C","x":4.5,"v":0.0002},{"r":"C","x":5,"v":0},{"r":"C","x":6,"v":0},
{"r":"V","x":-6,"v":0},{"r":"V","x":-4,"v":0},{"r":"V","x":-3.5,"v":0},{"r":"V","x":-3,"v":0.0001},{"r":"V","x":-2.5,"v":0.0006},{"r":"V","x":-2,"v":0.0041},{"r":"V","x":-1.5,"v":0.0196},{"r":"V","x":-1,"v":0.0643},{"r":"V","x":-0.5,"v":0.1497},{"r":"V","x":0,"v":0.2608},{"r":"V","x":0.5,"v":0.359},{"r":"V","x":1,"v":0.3991},{"r":"V","x":1.5,"v":0.3494},{"r":"V","x":2,"v":0.231},{"r":"V","x":2.5,"v":0.1118},{"r":"V","x":3,"v":0.039},{"r":"V","x":3.5,"v":0.0098},{"r":"V","x":4,"v":0.0017},{"r":"V","x":4.5,"v":0.0002},{"r":"V","x":5,"v":0},{"r":"V","x":6,"v":0},
{"r":"G","x":-6,"v":0},{"r":"G","x":-4,"v":0},{"r":"G","x":-3.5,"v":0},{"r":"G","x":-3,"v":0.0002},{"r":"G","x":-2.5,"v":0.0017},{"r":"G","x":-2,"v":0.0116},{"r":"G","x":-1.5,"v":0.0532},{"r":"G","x":-1,"v":0.1607},{"r":"G","x":-0.5,"v":0.3218},{"r":"G","x":0,"v":0.4324},{"r":"G","x":0.5,"v":0.4027},{"r":"G","x":1,"v":0.2799},{"r":"G","x":1.5,"v":0.1655},{"r":"G","x":2,"v":0.0928},{"r":"G","x":2.5,"v":0.0479},{"r":"G","x":3,"v":0.0205},{"r":"G","x":3.5,"v":0.0069},{"r":"G","x":4,"v":0.0018},{"r":"G","x":4.5,"v":0.0004},{"r":"G","x":5,"v":0.0001},{"r":"G","x":5.5,"v":0},{"r":"G","x":6,"v":0}
],
"pyx":[
{"r":"S","c":"p","x":-6,"v":0.0001},{"r":"S","c":"p","x":-4,"v":0.0019},{"r":"S","c":"p","x":-3.5,"v":0.0042},{"r":"S","c":"p","x":-3,"v":0.0091},{"r":"S","c":"p","x":-2.5,"v":0.0197},{"r":"S","c":"p","x":-2,"v":0.0421},{"r":"S","c":"p","x":-1.5,"v":0.0876},{"r":"S","c":"p","x":-1,"v":0.1733},{"r":"S","c":"p","x":-0.5,"v":0.3141},{"r":"S","c":"p","x":0,"v":0.5},{"r":"S","c":"p","x":0.5,"v":0.6859},{"r":"S","c":"p","x":1,"v":0.8267},{"r":"S","c":"p","x":1.5,"v":0.9124},{"r":"S","c":"p","x":2,"v":0.9579},{"r":"S","c":"p","x":2.5,"v":0.9803},{"r":"S","c":"p","x":3,"v":0.9909},{"r":"S","c":"p","x":3.5,"v":0.9958},{"r":"S","c":"p","x":4,"v":0.9981},{"r":"S","c":"p","x":4.5,"v":0.9991},{"r":"S","c":"p","x":5,"v":0.9996},{"r":"S","c":"p","x":6,"v":0.9999},
{"r":"S","c":"n","x":-6,"v":0.9999},{"r":"S","c":"n","x":-4,"v":0.9981},{"r":"S","c":"n","x":-3.5,"v":0.9958},{"r":"S","c":"n","x":-3,"v":0.9909},{"r":"S","c":"n","x":-2.5,"v":0.9803},{"r":"S","c":"n","x":-2,"v":0.9579},{"r":"S","c":"n","x":-1.5,"v":0.9124},{"r":"S","c":"n","x":-1,"v":0.8267},{"r":"S","c":"n","x":-0.5,"v":0.6859},{"r":"S","c":"n","x":0,"v":0.5},{"r":"S","c":"n","x":0.5,"v":0.3141},{"r":"S","c":"n","x":1,"v":0.1733},{"r":"S","c":"n","x":1.5,"v":0.0876},{"r":"S","c":"n","x":2,"v":0.0421},{"r":"S","c":"n","x":2.5,"v":0.0197},{"r":"S","c":"n","x":3,"v":0.0091},{"r":"S","c":"n","x":3.5,"v":0.0042},{"r":"S","c":"n","x":4,"v":0.0019},{"r":"S","c":"n","x":4.5,"v":0.0009},{"r":"S","c":"n","x":5,"v":0.0004},{"r":"S","c":"n","x":6,"v":0.0001},
{"r":"P","c":"p","x":-6,"v":0.0003},{"r":"P","c":"p","x":-4,"v":0.0058},{"r":"P","c":"p","x":-3.5,"v":0.0125},{"r":"P","c":"p","x":-3,"v":0.0269},{"r":"P","c":"p","x":-2.5,"v":0.0569},{"r":"P","c":"p","x":-2,"v":0.1165},{"r":"P","c":"p","x":-1.5,"v":0.2236},{"r":"P","c":"p","x":-1,"v":0.3861},{"r":"P","c":"p","x":-0.5,"v":0.5787},{"r":"P","c":"p","x":0,"v":0.75},{"r":"P","c":"p","x":0.5,"v":0.8676},{"r":"P","c":"p","x":1,"v":0.9347},{"r":"P","c":"p","x":1.5,"v":0.969},{"r":"P","c":"p","x":2,"v":0.9856},{"r":"P","c":"p","x":2.5,"v":0.9933},{"r":"P","c":"p","x":3,"v":0.9969},{"r":"P","c":"p","x":3.5,"v":0.9986},{"r":"P","c":"p","x":4,"v":0.9994},{"r":"P","c":"p","x":4.5,"v":0.9997},{"r":"P","c":"p","x":5,"v":0.9999},{"r":"P","c":"p","x":6,"v":1},
{"r":"P","c":"n","x":-6,"v":0.9997},{"r":"P","c":"n","x":-4,"v":0.9942},{"r":"P","c":"n","x":-3.5,"v":0.9875},{"r":"P","c":"n","x":-3,"v":0.9731},{"r":"P","c":"n","x":-2.5,"v":0.9431},{"r":"P","c":"n","x":-2,"v":0.8835},{"r":"P","c":"n","x":-1.5,"v":0.7764},{"r":"P","c":"n","x":-1,"v":0.6139},{"r":"P","c":"n","x":-0.5,"v":0.4213},{"r":"P","c":"n","x":0,"v":0.25},{"r":"P","c":"n","x":0.5,"v":0.1324},{"r":"P","c":"n","x":1,"v":0.0653},{"r":"P","c":"n","x":1.5,"v":0.031},{"r":"P","c":"n","x":2,"v":0.0144},{"r":"P","c":"n","x":2.5,"v":0.0067},{"r":"P","c":"n","x":3,"v":0.0031},{"r":"P","c":"n","x":3.5,"v":0.0014},{"r":"P","c":"n","x":4,"v":0.0006},{"r":"P","c":"n","x":4.5,"v":0.0003},{"r":"P","c":"n","x":5,"v":0.0001},{"r":"P","c":"n","x":6,"v":0},
{"r":"C","c":"p","x":-6,"v":0},{"r":"C","c":"p","x":-4,"v":0.0004},{"r":"C","c":"p","x":-3.5,"v":0.0008},{"r":"C","c":"p","x":-3,"v":0.002},{"r":"C","c":"p","x":-2.5,"v":0.0046},{"r":"C","c":"p","x":-2,"v":0.0108},{"r":"C","c":"p","x":-1.5,"v":0.0252},{"r":"C","c":"p","x":-1,"v":0.0576},{"r":"C","c":"p","x":-0.5,"v":0.1262},{"r":"C","c":"p","x":0,"v":0.2544},{"r":"C","c":"p","x":0.5,"v":0.4465},{"r":"C","c":"p","x":1,"v":0.6559},{"r":"C","c":"p","x":1.5,"v":0.8183},{"r":"C","c":"p","x":2,"v":0.9141},{"r":"C","c":"p","x":2.5,"v":0.9618},{"r":"C","c":"p","x":3,"v":0.9835},{"r":"C","c":"p","x":3.5,"v":0.993},{"r":"C","c":"p","x":4,"v":0.997},{"r":"C","c":"p","x":4.5,"v":0.9987},{"r":"C","c":"p","x":5,"v":0.9995},{"r":"C","c":"p","x":6,"v":1},
{"r":"C","c":"n","x":-6,"v":1},{"r":"C","c":"n","x":-4,"v":0.9996},{"r":"C","c":"n","x":-3.5,"v":0.9992},{"r":"C","c":"n","x":-3,"v":0.998},{"r":"C","c":"n","x":-2.5,"v":0.9954},{"r":"C","c":"n","x":-2,"v":0.9892},{"r":"C","c":"n","x":-1.5,"v":0.9748},{"r":"C","c":"n","x":-1,"v":0.9424},{"r":"C","c":"n","x":-0.5,"v":0.8738},{"r":"C","c":"n","x":0,"v":0.7456},{"r":"C","c":"n","x":0.5,"v":0.5535},{"r":"C","c":"n","x":1,"v":0.3441},{"r":"C","c":"n","x":1.5,"v":0.1817},{"r":"C","c":"n","x":2,"v":0.0859},{"r":"C","c":"n","x":2.5,"v":0.0382},{"r":"C","c":"n","x":3,"v":0.0165},{"r":"C","c":"n","x":3.5,"v":0.007},{"r":"C","c":"n","x":4,"v":0.003},{"r":"C","c":"n","x":4.5,"v":0.0013},{"r":"C","c":"n","x":5,"v":0.0005},{"r":"C","c":"n","x":6,"v":0},
{"r":"K","c":"p","x":-6,"v":0.0001},{"r":"K","c":"p","x":-4,"v":0.0039},{"r":"K","c":"p","x":-3.5,"v":0.0095},{"r":"K","c":"p","x":-3,"v":0.0231},{"r":"K","c":"p","x":-2.5,"v":0.0551},{"r":"K","c":"p","x":-2,"v":0.126},{"r":"K","c":"p","x":-1.5,"v":0.2627},{"r":"K","c":"p","x":-1,"v":0.4683},{"r":"K","c":"p","x":-0.5,"v":0.6853},{"r":"K","c":"p","x":0,"v":0.8433},{"r":"K","c":"p","x":0.5,"v":0.93},{"r":"K","c":"p","x":1,"v":0.9705},{"r":"K","c":"p","x":1.5,"v":0.9878},{"r":"K","c":"p","x":2,"v":0.995},{"r":"K","c":"p","x":2.5,"v":0.998},{"r":"K","c":"p","x":3,"v":0.9992},{"r":"K","c":"p","x":3.5,"v":0.9997},{"r":"K","c":"p","x":4,"v":0.9999},{"r":"K","c":"p","x":4.5,"v":1},{"r":"K","c":"p","x":5,"v":1},{"r":"K","c":"p","x":6,"v":1},
{"r":"K","c":"n","x":-6,"v":0.9999},{"r":"K","c":"n","x":-4,"v":0.9961},{"r":"K","c":"n","x":-3.5,"v":0.9905},{"r":"K","c":"n","x":-3,"v":0.9769},{"r":"K","c":"n","x":-2.5,"v":0.9449},{"r":"K","c":"n","x":-2,"v":0.874},{"r":"K","c":"n","x":-1.5,"v":0.7373},{"r":"K","c":"n","x":-1,"v":0.5317},{"r":"K","c":"n","x":-0.5,"v":0.3147},{"r":"K","c":"n","x":0,"v":0.1567},{"r":"K","c":"n","x":0.5,"v":0.07},{"r":"K","c":"n","x":1,"v":0.0295},{"r":"K","c":"n","x":1.5,"v":0.0122},{"r":"K","c":"n","x":2,"v":0.005},{"r":"K","c":"n","x":2.5,"v":0.002},{"r":"K","c":"n","x":3,"v":0.0008},{"r":"K","c":"n","x":3.5,"v":0.0003},{"r":"K","c":"n","x":4,"v":0.0001},{"r":"K","c":"n","x":4.5,"v":0},{"r":"K","c":"n","x":5,"v":0},{"r":"K","c":"n","x":6,"v":0},
{"r":"G","c":"p","x":-6,"v":0},{"r":"G","c":"p","x":-4,"v":0.0002},{"r":"G","c":"p","x":-3.5,"v":0.0004},{"r":"G","c":"p","x":-3,"v":0.0008},{"r":"G","c":"p","x":-2.5,"v":0.0018},{"r":"G","c":"p","x":-2,"v":0.004},{"r":"G","c":"p","x":-1.5,"v":0.009},{"r":"G","c":"p","x":-1,"v":0.0202},{"r":"G","c":"p","x":-0.5,"v":0.0443},{"r":"G","c":"p","x":0,"v":0.0946},{"r":"G","c":"p","x":0.5,"v":0.1906},{"r":"G","c":"p","x":1,"v":0.3466},{"r":"G","c":"p","x":1.5,"v":0.5446},{"r":"G","c":"p","x":2,"v":0.7293},{"r":"G","c":"p","x":2.5,"v":0.8587},{"r":"G","c":"p","x":3,"v":0.9319},{"r":"G","c":"p","x":3.5,"v":0.9686},{"r":"G","c":"p","x":4,"v":0.9858},{"r":"G","c":"p","x":4.5,"v":0.9936},{"r":"G","c":"p","x":5,"v":0.9972},{"r":"G","c":"p","x":6,"v":0.9994},
{"r":"G","c":"n","x":-6,"v":1},{"r":"G","c":"n","x":-4,"v":0.9998},{"r":"G","c":"n","x":-3.5,"v":0.9996},{"r":"G","c":"n","x":-3,"v":0.9992},{"r":"G","c":"n","x":-2.5,"v":0.9982},{"r":"G","c":"n","x":-2,"v":0.996},{"r":"G","c":"n","x":-1.5,"v":0.991},{"r":"G","c":"n","x":-1,"v":0.9798},{"r":"G","c":"n","x":-0.5,"v":0.9557},{"r":"G","c":"n","x":0,"v":0.9054},{"r":"G","c":"n","x":0.5,"v":0.8094},{"r":"G","c":"n","x":1,"v":0.6534},{"r":"G","c":"n","x":1.5,"v":0.4554},{"r":"G","c":"n","x":2,"v":0.2707},{"r":"G","c":"n","x":2.5,"v":0.1413},{"r":"G","c":"n","x":3,"v":0.0681},{"r":"G","c":"n","x":3.5,"v":0.0314},{"r":"G","c":"n","x":4,"v":0.0142},{"r":"G","c":"n","x":4.5,"v":0.0064},{"r":"G","c":"n","x":5,"v":0.0028},{"r":"G","c":"n","x":6,"v":0.0006}
],
"pxy":[
{"r":"S","c":"p","x":-6,"v":0},{"r":"S","c":"p","x":-4,"v":0},{"r":"S","c":"p","x":-3,"v":0},{"r":"S","c":"p","x":-2.5,"v":0.0004},{"r":"S","c":"p","x":-2,"v":0.0038},{"r":"S","c":"p","x":-1.5,"v":0.0219},{"r":"S","c":"p","x":-1,"v":0.086},{"r":"S","c":"p","x":-0.5,"v":0.2283},{"r":"S","c":"p","x":0,"v":0.4102},{"r":"S","c":"p","x":0.5,"v":0.4987},{"r":"S","c":"p","x":1,"v":0.4102},{"r":"S","c":"p","x":1.5,"v":0.2283},{"r":"S","c":"p","x":2,"v":0.086},{"r":"S","c":"p","x":2.5,"v":0.0219},{"r":"S","c":"p","x":3,"v":0.0038},{"r":"S","c":"p","x":3.5,"v":0.0004},{"r":"S","c":"p","x":4,"v":0},{"r":"S","c":"p","x":6,"v":0},
{"r":"S","c":"n","x":-6,"v":0},{"r":"S","c":"n","x":-4,"v":0},{"r":"S","c":"n","x":-3.5,"v":0.0004},{"r":"S","c":"n","x":-3,"v":0.0038},{"r":"S","c":"n","x":-2.5,"v":0.0219},{"r":"S","c":"n","x":-2,"v":0.086},{"r":"S","c":"n","x":-1.5,"v":0.2283},{"r":"S","c":"n","x":-1,"v":0.4102},{"r":"S","c":"n","x":-0.5,"v":0.4987},{"r":"S","c":"n","x":0,"v":0.4102},{"r":"S","c":"n","x":0.5,"v":0.2283},{"r":"S","c":"n","x":1,"v":0.086},{"r":"S","c":"n","x":1.5,"v":0.0219},{"r":"S","c":"n","x":2,"v":0.0038},{"r":"S","c":"n","x":2.5,"v":0.0004},{"r":"S","c":"n","x":3,"v":0},{"r":"S","c":"n","x":4,"v":0},{"r":"S","c":"n","x":6,"v":0},
{"r":"C","c":"p","x":-6,"v":0},{"r":"C","c":"p","x":-3,"v":0},{"r":"C","c":"p","x":-2.5,"v":0},{"r":"C","c":"p","x":-2,"v":0.0005},{"r":"C","c":"p","x":-1.5,"v":0.0034},{"r":"C","c":"p","x":-1,"v":0.0176},{"r":"C","c":"p","x":-0.5,"v":0.0657},{"r":"C","c":"p","x":0,"v":0.1753},{"r":"C","c":"p","x":0.5,"v":0.3331},{"r":"C","c":"p","x":1,"v":0.4515},{"r":"C","c":"p","x":1.5,"v":0.4365},{"r":"C","c":"p","x":2,"v":0.301},{"r":"C","c":"p","x":2.5,"v":0.148},{"r":"C","c":"p","x":3,"v":0.0519},{"r":"C","c":"p","x":3.5,"v":0.013},{"r":"C","c":"p","x":4,"v":0.0023},{"r":"C","c":"p","x":4.5,"v":0.0003},{"r":"C","c":"p","x":5,"v":0},{"r":"C","c":"p","x":6,"v":0},
{"r":"C","c":"n","x":-6,"v":0},{"r":"C","c":"n","x":-4,"v":0},{"r":"C","c":"n","x":-3.5,"v":0},{"r":"C","c":"n","x":-3,"v":0.0002},{"r":"C","c":"n","x":-2.5,"v":0.0022},{"r":"C","c":"n","x":-2,"v":0.015},{"r":"C","c":"n","x":-1.5,"v":0.0683},{"r":"C","c":"n","x":-1,"v":0.2044},{"r":"C","c":"n","x":-0.5,"v":0.4014},{"r":"C","c":"n","x":0,"v":0.517},{"r":"C","c":"n","x":0.5,"v":0.4368},{"r":"C","c":"n","x":1,"v":0.2421},{"r":"C","c":"n","x":1.5,"v":0.088},{"r":"C","c":"n","x":2,"v":0.021},{"r":"C","c":"n","x":2.5,"v":0.0033},{"r":"C","c":"n","x":3,"v":0.0003},{"r":"C","c":"n","x":3.5,"v":0},{"r":"C","c":"n","x":4,"v":0},{"r":"C","c":"n","x":6,"v":0},
{"r":"G","c":"p","x":-6,"v":0},{"r":"G","c":"p","x":-3.5,"v":0},{"r":"G","c":"p","x":-3,"v":0},{"r":"G","c":"p","x":-2.5,"v":0.0001},{"r":"G","c":"p","x":-2,"v":0.001},{"r":"G","c":"p","x":-1.5,"v":0.0055},{"r":"G","c":"p","x":-1,"v":0.0224},{"r":"G","c":"p","x":-0.5,"v":0.0697},{"r":"G","c":"p","x":0,"v":0.1646},{"r":"G","c":"p","x":0.5,"v":0.2945},{"r":"G","c":"p","x":1,"v":0.3995},{"r":"G","c":"p","x":1.5,"v":0.4107},{"r":"G","c":"p","x":2,"v":0.32},{"r":"G","c":"p","x":2.5,"v":0.1891},{"r":"G","c":"p","x":3,"v":0.0847},{"r":"G","c":"p","x":3.5,"v":0.0288},{"r":"G","c":"p","x":4,"v":0.0074},{"r":"G","c":"p","x":4.5,"v":0.0014},{"r":"G","c":"p","x":5,"v":0.0002},{"r":"G","c":"p","x":5.5,"v":0},{"r":"G","c":"p","x":6,"v":0},
{"r":"G","c":"n","x":-6,"v":0},{"r":"G","c":"n","x":-4,"v":0},{"r":"G","c":"n","x":-3.5,"v":0},{"r":"G","c":"n","x":-3,"v":0.0002},{"r":"G","c":"n","x":-2.5,"v":0.0022},{"r":"G","c":"n","x":-2,"v":0.015},{"r":"G","c":"n","x":-1.5,"v":0.0683},{"r":"G","c":"n","x":-1,"v":0.2044},{"r":"G","c":"n","x":-0.5,"v":0.4014},{"r":"G","c":"n","x":0,"v":0.517},{"r":"G","c":"n","x":0.5,"v":0.4368},{"r":"G","c":"n","x":1,"v":0.2421},{"r":"G","c":"n","x":1.5,"v":0.088},{"r":"G","c":"n","x":2,"v":0.021},{"r":"G","c":"n","x":2.5,"v":0.0033},{"r":"G","c":"n","x":3,"v":0.0003},{"r":"G","c":"n","x":3.5,"v":0},{"r":"G","c":"n","x":4,"v":0},{"r":"G","c":"n","x":6,"v":0},
{"r":"K","c":"p","x":-6,"v":0},{"r":"K","c":"p","x":-4,"v":0},{"r":"K","c":"p","x":-3.5,"v":0},{"r":"K","c":"p","x":-3,"v":0.0004},{"r":"K","c":"p","x":-2.5,"v":0.0027},{"r":"K","c":"p","x":-2,"v":0.0137},{"r":"K","c":"p","x":-1.5,"v":0.0517},{"r":"K","c":"p","x":-1,"v":0.1419},{"r":"K","c":"p","x":-0.5,"v":0.284},{"r":"K","c":"p","x":0,"v":0.4149},{"r":"K","c":"p","x":0.5,"v":0.4419},{"r":"K","c":"p","x":1,"v":0.3433},{"r":"K","c":"p","x":1.5,"v":0.1945},{"r":"K","c":"p","x":2,"v":0.0804},{"r":"K","c":"p","x":2.5,"v":0.0242},{"r":"K","c":"p","x":3,"v":0.0053},{"r":"K","c":"p","x":3.5,"v":0.0009},{"r":"K","c":"p","x":4,"v":0.0001},{"r":"K","c":"p","x":4.5,"v":0},{"r":"K","c":"p","x":6,"v":0},
{"r":"K","c":"n","x":-6,"v":0},{"r":"K","c":"n","x":-4.5,"v":0},{"r":"K","c":"n","x":-4,"v":0.0003},{"r":"K","c":"n","x":-3.5,"v":0.0024},{"r":"K","c":"n","x":-3,"v":0.0162},{"r":"K","c":"n","x":-2.5,"v":0.071},{"r":"K","c":"n","x":-2,"v":0.2067},{"r":"K","c":"n","x":-1.5,"v":0.3988},{"r":"K","c":"n","x":-1,"v":0.5103},{"r":"K","c":"n","x":-0.5,"v":0.433},{"r":"K","c":"n","x":0,"v":0.2436},{"r":"K","c":"n","x":0.5,"v":0.0908},{"r":"K","c":"n","x":1,"v":0.0225},{"r":"K","c":"n","x":1.5,"v":0.0037},{"r":"K","c":"n","x":2,"v":0.0004},{"r":"K","c":"n","x":2.5,"v":0},{"r":"K","c":"n","x":3,"v":0},{"r":"K","c":"n","x":6,"v":0}
],
"pj":[
{"r":"S","c":"p","x":-6,"v":0},{"r":"S","c":"p","x":-3.5,"v":0},{"r":"S","c":"p","x":-3,"v":0},{"r":"S","c":"p","x":-2.5,"v":0.0002},{"r":"S","c":"p","x":-2,"v":0.0019},{"r":"S","c":"p","x":-1.5,"v":0.011},{"r":"S","c":"p","x":-1,"v":0.043},{"r":"S","c":"p","x":-0.5,"v":0.1142},{"r":"S","c":"p","x":0,"v":0.2051},{"r":"S","c":"p","x":0.5,"v":0.2494},{"r":"S","c":"p","x":1,"v":0.2051},{"r":"S","c":"p","x":1.5,"v":0.1142},{"r":"S","c":"p","x":2,"v":0.043},{"r":"S","c":"p","x":2.5,"v":0.011},{"r":"S","c":"p","x":3,"v":0.0019},{"r":"S","c":"p","x":3.5,"v":0.0002},{"r":"S","c":"p","x":4,"v":0},{"r":"S","c":"p","x":6,"v":0},
{"r":"S","c":"n","x":-6,"v":0},{"r":"S","c":"n","x":-4,"v":0},{"r":"S","c":"n","x":-3.5,"v":0.0002},{"r":"S","c":"n","x":-3,"v":0.0019},{"r":"S","c":"n","x":-2.5,"v":0.011},{"r":"S","c":"n","x":-2,"v":0.043},{"r":"S","c":"n","x":-1.5,"v":0.1142},{"r":"S","c":"n","x":-1,"v":0.2051},{"r":"S","c":"n","x":-0.5,"v":0.2494},{"r":"S","c":"n","x":0,"v":0.2051},{"r":"S","c":"n","x":0.5,"v":0.1142},{"r":"S","c":"n","x":1,"v":0.043},{"r":"S","c":"n","x":1.5,"v":0.011},{"r":"S","c":"n","x":2,"v":0.0019},{"r":"S","c":"n","x":2.5,"v":0.0002},{"r":"S","c":"n","x":3,"v":0},{"r":"S","c":"n","x":3.5,"v":0},{"r":"S","c":"n","x":6,"v":0},
{"r":"P","c":"p","x":-6,"v":0},{"r":"P","c":"p","x":-3.5,"v":0},{"r":"P","c":"p","x":-3,"v":0},{"r":"P","c":"p","x":-2.5,"v":0.0003},{"r":"P","c":"p","x":-2,"v":0.0028},{"r":"P","c":"p","x":-1.5,"v":0.0164},{"r":"P","c":"p","x":-1,"v":0.0645},{"r":"P","c":"p","x":-0.5,"v":0.1712},{"r":"P","c":"p","x":0,"v":0.3077},{"r":"P","c":"p","x":0.5,"v":0.374},{"r":"P","c":"p","x":1,"v":0.3077},{"r":"P","c":"p","x":1.5,"v":0.1712},{"r":"P","c":"p","x":2,"v":0.0645},{"r":"P","c":"p","x":2.5,"v":0.0164},{"r":"P","c":"p","x":3,"v":0.0028},{"r":"P","c":"p","x":3.5,"v":0.0003},{"r":"P","c":"p","x":4,"v":0},{"r":"P","c":"p","x":6,"v":0},
{"r":"P","c":"n","x":-6,"v":0},{"r":"P","c":"n","x":-4,"v":0},{"r":"P","c":"n","x":-3.5,"v":0.0001},{"r":"P","c":"n","x":-3,"v":0.001},{"r":"P","c":"n","x":-2.5,"v":0.0055},{"r":"P","c":"n","x":-2,"v":0.0215},{"r":"P","c":"n","x":-1.5,"v":0.0571},{"r":"P","c":"n","x":-1,"v":0.1026},{"r":"P","c":"n","x":-0.5,"v":0.1247},{"r":"P","c":"n","x":0,"v":0.1026},{"r":"P","c":"n","x":0.5,"v":0.0571},{"r":"P","c":"n","x":1,"v":0.0215},{"r":"P","c":"n","x":1.5,"v":0.0055},{"r":"P","c":"n","x":2,"v":0.001},{"r":"P","c":"n","x":2.5,"v":0.0001},{"r":"P","c":"n","x":3,"v":0},{"r":"P","c":"n","x":3.5,"v":0},{"r":"P","c":"n","x":6,"v":0},
{"r":"C","c":"p","x":-6,"v":0},{"r":"C","c":"p","x":-3,"v":0},{"r":"C","c":"p","x":-2.5,"v":0},{"r":"C","c":"p","x":-2,"v":0.0002},{"r":"C","c":"p","x":-1.5,"v":0.0017},{"r":"C","c":"p","x":-1,"v":0.0088},{"r":"C","c":"p","x":-0.5,"v":0.0329},{"r":"C","c":"p","x":0,"v":0.0877},{"r":"C","c":"p","x":0.5,"v":0.1666},{"r":"C","c":"p","x":1,"v":0.2258},{"r":"C","c":"p","x":1.5,"v":0.2183},{"r":"C","c":"p","x":2,"v":0.1505},{"r":"C","c":"p","x":2.5,"v":0.074},{"r":"C","c":"p","x":3,"v":0.026},{"r":"C","c":"p","x":3.5,"v":0.0065},{"r":"C","c":"p","x":4,"v":0.0012},{"r":"C","c":"p","x":4.5,"v":0.0002},{"r":"C","c":"p","x":5,"v":0},{"r":"C","c":"p","x":6,"v":0},
{"r":"C","c":"n","x":-6,"v":0},{"r":"C","c":"n","x":-4,"v":0},{"r":"C","c":"n","x":-3.5,"v":0},{"r":"C","c":"n","x":-3,"v":0.0001},{"r":"C","c":"n","x":-2.5,"v":0.0011},{"r":"C","c":"n","x":-2,"v":0.0075},{"r":"C","c":"n","x":-1.5,"v":0.0342},{"r":"C","c":"n","x":-1,"v":0.1022},{"r":"C","c":"n","x":-0.5,"v":0.2007},{"r":"C","c":"n","x":0,"v":0.2585},{"r":"C","c":"n","x":0.5,"v":0.2184},{"r":"C","c":"n","x":1,"v":0.1211},{"r":"C","c":"n","x":1.5,"v":0.044},{"r":"C","c":"n","x":2,"v":0.0105},{"r":"C","c":"n","x":2.5,"v":0.0016},{"r":"C","c":"n","x":3,"v":0.0002},{"r":"C","c":"n","x":3.5,"v":0},{"r":"C","c":"n","x":6,"v":0},
{"r":"V","c":"p","x":-6,"v":0},{"r":"V","c":"p","x":-3,"v":0},{"r":"V","c":"p","x":-2.5,"v":0},{"r":"V","c":"p","x":-2,"v":0.0003},{"r":"V","c":"p","x":-1.5,"v":0.0025},{"r":"V","c":"p","x":-1,"v":0.0132},{"r":"V","c":"p","x":-0.5,"v":0.0493},{"r":"V","c":"p","x":0,"v":0.1315},{"r":"V","c":"p","x":0.5,"v":0.2498},{"r":"V","c":"p","x":1,"v":0.3386},{"r":"V","c":"p","x":1.5,"v":0.3274},{"r":"V","c":"p","x":2,"v":0.2258},{"r":"V","c":"p","x":2.5,"v":0.111},{"r":"V","c":"p","x":3,"v":0.0389},{"r":"V","c":"p","x":3.5,"v":0.0098},{"r":"V","c":"p","x":4,"v":0.0017},{"r":"V","c":"p","x":4.5,"v":0.0002},{"r":"V","c":"p","x":5,"v":0},{"r":"V","c":"p","x":6,"v":0},
{"r":"V","c":"n","x":-6,"v":0},{"r":"V","c":"n","x":-4,"v":0},{"r":"V","c":"n","x":-3.5,"v":0},{"r":"V","c":"n","x":-3,"v":0.0001},{"r":"V","c":"n","x":-2.5,"v":0.0005},{"r":"V","c":"n","x":-2,"v":0.0038},{"r":"V","c":"n","x":-1.5,"v":0.0171},{"r":"V","c":"n","x":-1,"v":0.0511},{"r":"V","c":"n","x":-0.5,"v":0.1004},{"r":"V","c":"n","x":0,"v":0.1293},{"r":"V","c":"n","x":0.5,"v":0.1092},{"r":"V","c":"n","x":1,"v":0.0605},{"r":"V","c":"n","x":1.5,"v":0.022},{"r":"V","c":"n","x":2,"v":0.0053},{"r":"V","c":"n","x":2.5,"v":0.0008},{"r":"V","c":"n","x":3,"v":0.0001},{"r":"V","c":"n","x":3.5,"v":0},{"r":"V","c":"n","x":6,"v":0},
{"r":"K","c":"p","x":-6,"v":0},{"r":"K","c":"p","x":-4,"v":0},{"r":"K","c":"p","x":-3.5,"v":0},{"r":"K","c":"p","x":-3,"v":0.0003},{"r":"K","c":"p","x":-2.5,"v":0.002},{"r":"K","c":"p","x":-2,"v":0.0104},{"r":"K","c":"p","x":-1.5,"v":0.0393},{"r":"K","c":"p","x":-1,"v":0.1078},{"r":"K","c":"p","x":-0.5,"v":0.2158},{"r":"K","c":"p","x":0,"v":0.3153},{"r":"K","c":"p","x":0.5,"v":0.3358},{"r":"K","c":"p","x":1,"v":0.2609},{"r":"K","c":"p","x":1.5,"v":0.1478},{"r":"K","c":"p","x":2,"v":0.0611},{"r":"K","c":"p","x":2.5,"v":0.0184},{"r":"K","c":"p","x":3,"v":0.004},{"r":"K","c":"p","x":3.5,"v":0.0007},{"r":"K","c":"p","x":4,"v":0.0001},{"r":"K","c":"p","x":4.5,"v":0},{"r":"K","c":"p","x":6,"v":0},
{"r":"K","c":"n","x":-6,"v":0},{"r":"K","c":"n","x":-4.5,"v":0},{"r":"K","c":"n","x":-4,"v":0.0001},{"r":"K","c":"n","x":-3.5,"v":0.0006},{"r":"K","c":"n","x":-3,"v":0.0039},{"r":"K","c":"n","x":-2.5,"v":0.017},{"r":"K","c":"n","x":-2,"v":0.0496},{"r":"K","c":"n","x":-1.5,"v":0.0957},{"r":"K","c":"n","x":-1,"v":0.1225},{"r":"K","c":"n","x":-0.5,"v":0.1039},{"r":"K","c":"n","x":0,"v":0.0585},{"r":"K","c":"n","x":0.5,"v":0.0218},{"r":"K","c":"n","x":1,"v":0.0054},{"r":"K","c":"n","x":1.5,"v":0.0009},{"r":"K","c":"n","x":2,"v":0.0001},{"r":"K","c":"n","x":2.5,"v":0},{"r":"K","c":"n","x":3,"v":0},{"r":"K","c":"n","x":6,"v":0},
{"r":"G","c":"p","x":-6,"v":0},{"r":"G","c":"p","x":-3,"v":0},{"r":"G","c":"p","x":-2.5,"v":0},{"r":"G","c":"p","x":-2,"v":0.0002},{"r":"G","c":"p","x":-1.5,"v":0.0013},{"r":"G","c":"p","x":-1,"v":0.0054},{"r":"G","c":"p","x":-0.5,"v":0.0167},{"r":"G","c":"p","x":0,"v":0.0395},{"r":"G","c":"p","x":0.5,"v":0.0707},{"r":"G","c":"p","x":1,"v":0.0959},{"r":"G","c":"p","x":1.5,"v":0.0986},{"r":"G","c":"p","x":2,"v":0.0768},{"r":"G","c":"p","x":2.5,"v":0.0454},{"r":"G","c":"p","x":3,"v":0.0203},{"r":"G","c":"p","x":3.5,"v":0.0069},{"r":"G","c":"p","x":4,"v":0.0018},{"r":"G","c":"p","x":4.5,"v":0.0004},{"r":"G","c":"p","x":5,"v":0.0001},{"r":"G","c":"p","x":5.5,"v":0},{"r":"G","c":"p","x":6,"v":0},
{"r":"G","c":"n","x":-6,"v":0},{"r":"G","c":"n","x":-4,"v":0},{"r":"G","c":"n","x":-3.5,"v":0},{"r":"G","c":"n","x":-3,"v":0.0002},{"r":"G","c":"n","x":-2.5,"v":0.0017},{"r":"G","c":"n","x":-2,"v":0.0114},{"r":"G","c":"n","x":-1.5,"v":0.0519},{"r":"G","c":"n","x":-1,"v":0.1553},{"r":"G","c":"n","x":-0.5,"v":0.3051},{"r":"G","c":"n","x":0,"v":0.3929},{"r":"G","c":"n","x":0.5,"v":0.332},{"r":"G","c":"n","x":1,"v":0.184},{"r":"G","c":"n","x":1.5,"v":0.0669},{"r":"G","c":"n","x":2,"v":0.016},{"r":"G","c":"n","x":2.5,"v":0.0025},{"r":"G","c":"n","x":3,"v":0.0002},{"r":"G","c":"n","x":3.5,"v":0},{"r":"G","c":"n","x":6,"v":0}
]
},
"config":{
 "view":{"stroke":"black","strokeWidth":0.8},
 "axis":{"domain":false,"grid":false,"tickColor":"black","tickSize":3.5,"tickWidth":0.8,"labelFont":"Liberation Serif","labelFontSize":11,"labelColor":"black","titleFont":"Liberation Serif","titleFontWeight":"normal","titleColor":"black","titleFontSize":13,"labelFlush":false,"labelOverlap":false},
 "axisTop":{"labelAngle":90,"labelAlign":"right","labelBaseline":"middle","labelPadding":2.5,"titleAngle":90,"titleAlign":"right","titleBaseline":"middle","titlePadding":22},
 "axisLeft":{"labelAngle":90,"labelAlign":"center","labelBaseline":"top","labelPadding":3.5},
 "title":{"font":"Liberation Serif","fontStyle":"italic","fontWeight":"normal","fontSize":15,"color":"black","offset":8},
 "text":{"font":"Liberation Serif"}
}
}
